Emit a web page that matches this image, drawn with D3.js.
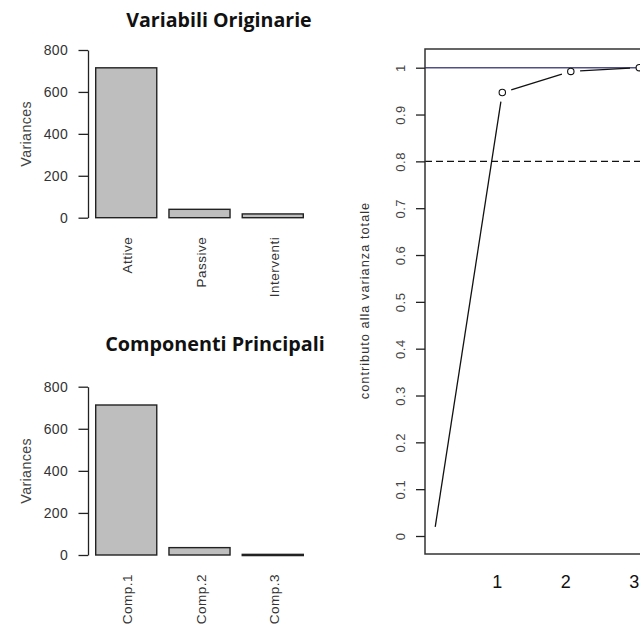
<!DOCTYPE html>
<html>
<head>
<meta charset="utf-8">
<script src="https://cdn.jsdelivr.net/npm/d3@7/dist/d3.min.js"></script>
<style>
  html, body { margin: 0; padding: 0; background: #fff; }
  svg { display: block; }
  text { font-family: "Liberation Sans", Arial, sans-serif; }
  .title { font-family: "Open Sans", "Noto Sans", sans-serif; font-weight: 700; fill: #111; }
</style>
</head>
<body>
<svg id="chart" width="640" height="626"></svg>
<script>
// Variances of the original variables
const origVars = ["Attive", "Passive", "Interventi"];
const origValues = [715, 40, 18];

// Variances of the principal components
const compNames = ["Comp.1", "Comp.2", "Comp.3"];
const compValues = [713, 35, 3];

// Cumulative share of total variance by number of components
const cumIndex = [0, 1, 2, 3];
const cumProp = [0, 0.947, 0.992, 1.0];

const varTicks = [0, 200, 400, 600, 800];
const propTicks = [0, 0.1, 0.2, 0.3, 0.4, 0.5, 0.6, 0.7, 0.8, 0.9, 1];
const compTicks = [1, 2, 3];
const threshold = 0.8;

const svg = d3.select("#chart");

// ---------- bar panels ----------
function barPanel(cfg) {
  const g = svg.append("g");
  const y = d3.scaleLinear().domain([0, 800]).range([cfg.y0, cfg.y800]);
  const x = d3.scaleBand().domain(cfg.names).range([95.7, 303.3])
    .paddingInner(0.1667).paddingOuter(0);

  g.append("text").attr("class", "title")
    .attr("x", cfg.titleX).attr("y", cfg.titleY)
    .attr("text-anchor", "middle").attr("font-size", cfg.titleSize)
    .text(cfg.title);

  // y axis: ticks to the left, labels horizontal
  const ax = g.append("g").attr("transform", "translate(88,0)")
    .call(d3.axisLeft(y).tickValues(varTicks).tickSize(9.5).tickPadding(10.5).tickSizeOuter(0));
  ax.select(".domain").attr("stroke", "#222").attr("stroke-width", 1.3);
  ax.selectAll(".tick line").attr("stroke", "#222").attr("stroke-width", 1.3);
  ax.selectAll(".tick text")
    .attr("font-family", "'Liberation Sans', Arial, sans-serif")
    .attr("font-size", 14).attr("fill", "#333").attr("letter-spacing", 0.3);

  g.append("text")
    .attr("transform", `translate(31,${(cfg.y0 + cfg.y800) / 2}) rotate(-90)`)
    .attr("text-anchor", "middle").attr("font-size", 14.2).attr("fill", "#444")
    .attr("letter-spacing", 0.4)
    .text("Variances");

  g.selectAll("rect.bar").data(cfg.values).join("rect")
    .attr("class", "bar")
    .attr("x", (d, i) => x(cfg.names[i]))
    .attr("width", x.bandwidth())
    .attr("y", d => y(d))
    .attr("height", d => Math.max(1.2, y(0) - y(d)))
    .attr("fill", "#bebebe").attr("stroke", "#222").attr("stroke-width", 1.4);

  g.selectAll("text.cat").data(cfg.names).join("text")
    .attr("class", "cat")
    .attr("transform", d => `translate(${x(d) + x.bandwidth() / 2 + 1.5},${cfg.y0 + 19}) rotate(-90)`)
    .attr("text-anchor", "end").attr("dominant-baseline", "central")
    .attr("font-size", 13.5).attr("fill", "#333").attr("letter-spacing", 0.5)
    .text(d => d);
}

barPanel({ names: origVars, values: origValues, y0: 217.7, y800: 50,
  title: "Variabili Originarie", titleX: 219, titleY: 27, titleSize: 19.6 });
barPanel({ names: compNames, values: compValues, y0: 555, y800: 386.7,
  title: "Componenti Principali", titleX: 215, titleY: 351, titleSize: 19.8 });

// ---------- cumulative variance panel ----------
const px = d3.scaleLinear().domain([0, 3]).range([433.8, 639.3]);
const py = d3.scaleLinear().domain([0, 1]).range([536, 67.7]);
const box = { left: 425, top: 49, right: 720, bottom: 554 };

const rp = svg.append("g");

rp.append("line").attr("x1", box.left).attr("x2", box.right)
  .attr("y1", py(1)).attr("y2", py(1))
  .attr("stroke", "#505088").attr("stroke-width", 1.5);
rp.append("line").attr("x1", box.left).attr("x2", box.right)
  .attr("y1", py(threshold)).attr("y2", py(threshold))
  .attr("stroke", "#111").attr("stroke-width", 1.3).attr("stroke-dasharray", "7,4");

// line with gaps around the points
const pts = cumIndex.map((c, i) => [px(c), py(cumProp[i])]);
const gap = 9.3;
const segs = d3.pairs(pts).map(([a, b]) => {
  const dx = b[0] - a[0], dy = b[1] - a[1], len = Math.hypot(dx, dy);
  const ux = dx / len, uy = dy / len;
  return [[a[0] + ux * gap, a[1] + uy * gap], [b[0] - ux * gap, b[1] - uy * gap]];
});
rp.selectAll("line.seg").data(segs).join("line").attr("class", "seg")
  .attr("x1", d => d[0][0]).attr("y1", d => d[0][1])
  .attr("x2", d => d[1][0]).attr("y2", d => d[1][1])
  .attr("stroke", "#111").attr("stroke-width", 1.3);

rp.selectAll("circle.pt").data(cumIndex.slice(1)).join("circle").attr("class", "pt")
  .attr("cx", d => px(d)).attr("cy", d => py(cumProp[cumIndex.indexOf(d)]))
  .attr("r", 3.2).attr("fill", "#fff").attr("stroke", "#111").attr("stroke-width", 1.1);

// plot box
rp.append("rect").attr("x", box.left).attr("y", box.top)
  .attr("width", box.right - box.left).attr("height", box.bottom - box.top)
  .attr("fill", "none").attr("stroke", "#333").attr("stroke-width", 1.5);

// y axis ticks and rotated labels
const ra = rp.append("g").attr("transform", `translate(${box.left},0)`)
  .call(d3.axisLeft(py).tickValues(propTicks).tickSize(9).tickFormat(d3.format("~g")).tickSizeOuter(0));
ra.select(".domain").remove();
ra.selectAll(".tick line").attr("stroke", "#222").attr("stroke-width", 1.3);
ra.selectAll(".tick text")
  .attr("font-family", "'Liberation Sans', Arial, sans-serif")
  .attr("font-size", 13).attr("fill", "#444").attr("letter-spacing", 0.5)
  .attr("text-anchor", "middle").attr("dominant-baseline", "central")
  .attr("x", null).attr("dy", null)
  .attr("transform", "translate(-25,0) rotate(-90)");

rp.append("text")
  .attr("transform", `translate(364,300.5) rotate(-90)`)
  .attr("text-anchor", "middle").attr("dominant-baseline", "central")
  .attr("font-size", 12.8).attr("fill", "#333").attr("letter-spacing", 1.0)
  .text("contributo alla varianza totale");

// component numbers below the box
rp.selectAll("text.xl").data(compTicks).join("text").attr("class", "xl")
  .attr("x", d => px(d) - 5).attr("y", 588)
  .attr("text-anchor", "middle").attr("font-size", 18).attr("fill", "#111")
  .text(d => d);
</script>
</body>
</html>
